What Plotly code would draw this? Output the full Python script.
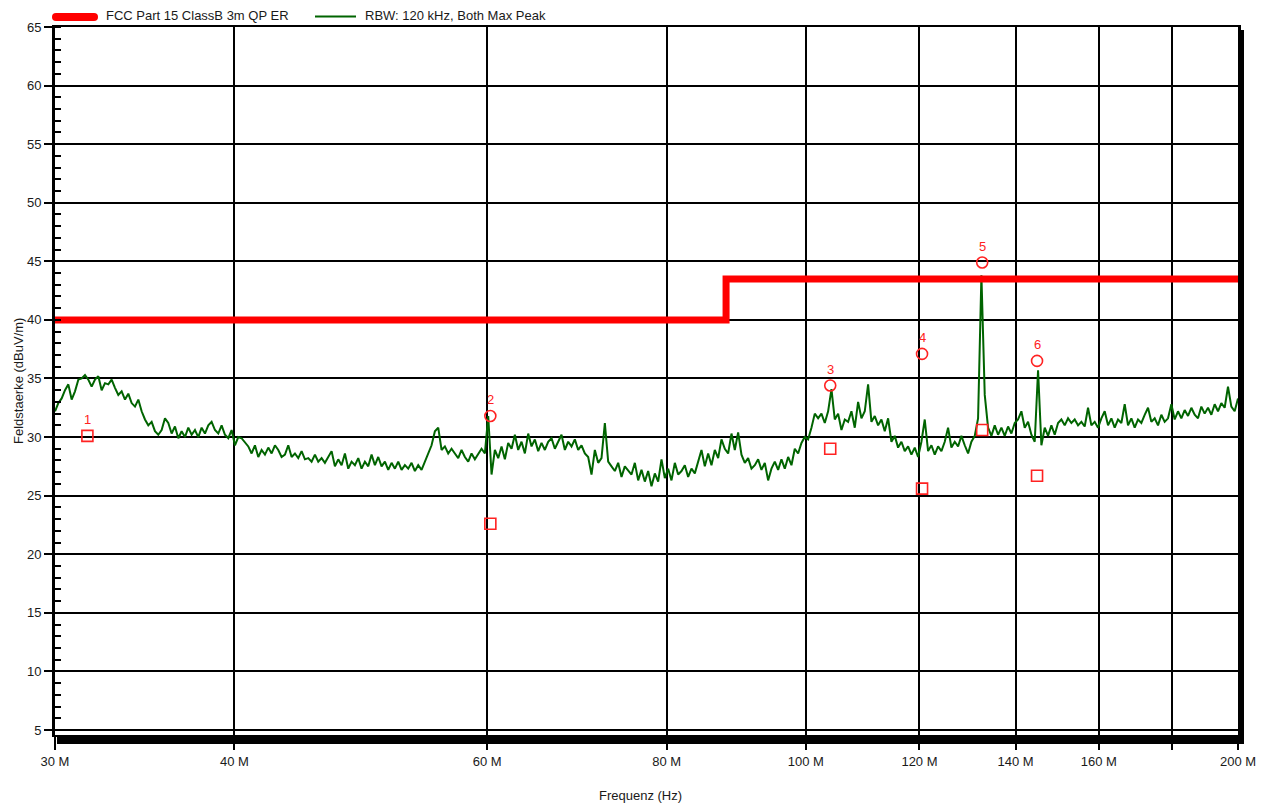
import numpy as np
import plotly.graph_objects as go

# ---------------- data ----------------
limit_name = "FCC Part 15 ClassB 3m QP ER"
limit_freq_mhz = [30, 88, 88, 200]
limit_level = [40, 40, 43.5, 43.5]

trace_name = "RBW: 120 kHz, Both Max Peak"
sweep_start_mhz = 30
sweep_stop_mhz = 200
trace_level = [
    32.2, 32.9, 33.3, 34.0, 34.5, 33.2, 33.9, 34.9, 35.0, 35.3,
    34.9, 34.3, 34.9, 35.2, 34.0, 34.6, 34.5, 34.9, 34.2, 33.6,
    33.9, 33.2, 33.7, 32.9, 32.6, 33.2, 32.2, 31.5, 31.0, 31.3,
    30.5, 30.2, 30.6, 31.6, 31.2, 30.3, 30.9, 29.9, 30.5, 30.0,
    30.8, 30.2, 30.6, 30.0, 30.8, 30.3, 31.0, 31.3, 30.6, 30.3,
    31.0, 30.2, 29.9, 30.6, 29.3, 30.0, 29.9, 29.5, 29.2, 28.6,
    29.3, 28.3, 28.9, 28.5, 29.1, 28.6, 29.3, 28.9, 28.3, 28.5,
    29.3, 28.3, 28.6, 28.2, 28.8, 28.1, 28.2, 27.9, 28.5, 27.9,
    28.2, 27.8, 28.3, 28.8, 27.5, 28.1, 27.6, 28.6, 27.3, 27.9,
    27.6, 28.2, 27.3, 27.9, 27.5, 28.5, 27.6, 28.3, 27.5, 27.9,
    27.2, 27.8, 27.3, 27.9, 27.2, 27.6, 27.3, 27.8, 27.1, 27.6,
    27.2, 27.9, 28.5, 29.3, 30.5, 30.8, 28.9, 29.2, 28.6,
    29.0, 28.6, 28.2, 28.9, 28.3, 27.9, 28.6, 28.1, 28.5, 29.0,
    28.6, 31.8, 26.8, 28.9, 28.2, 29.2, 28.1, 29.5, 29.0, 30.2,
    28.9, 29.6, 28.6, 30.3, 29.2, 29.8, 28.8, 29.5, 28.9, 29.6,
    29.9, 29.0, 29.6, 30.2, 28.9, 29.6, 29.2, 29.8, 28.9, 29.3,
    28.6, 28.3, 26.8, 28.9, 27.8, 28.2, 31.2, 27.9, 27.5, 27.1,
    27.8, 26.6, 27.5, 27.1, 26.8, 27.8, 26.3, 27.2, 26.2, 27.1,
    25.8, 26.9, 26.2, 28.1, 26.5, 27.3, 26.3, 27.8, 26.8, 27.1,
    27.6, 26.6, 27.3, 26.9, 27.9, 28.9, 27.5, 28.6, 27.6, 28.9,
    28.2, 29.8, 29.0, 28.6, 30.3, 28.9, 30.4, 28.5, 27.8, 28.2,
    27.3, 27.6, 28.1, 27.2, 27.8, 26.3, 27.3, 27.9, 27.2, 28.1,
    27.3, 28.3, 27.6, 29.0, 28.6, 29.5, 30.0, 29.8, 30.8, 32.0,
    31.6, 32.0, 31.2, 32.2, 34.1, 31.5, 32.0, 30.6, 31.5,
    31.3, 32.2, 30.8, 33.0, 31.6, 32.2, 34.5, 31.3, 31.8, 31.0,
    31.5, 30.5, 31.6, 29.6, 30.1, 29.1, 29.6, 28.8, 29.2, 28.5,
    29.1, 28.3, 29.6, 31.5, 28.8, 29.3, 28.5, 29.2, 28.8, 29.6,
    30.8, 29.1, 29.6, 29.2, 30.1, 29.3, 28.6, 29.6, 30.1, 31.6,
    43.8, 33.6, 30.8, 30.1, 31.0, 30.2, 30.8, 30.1, 30.9, 30.3,
    31.2, 31.5, 32.2, 30.8, 31.3, 30.2, 29.6, 35.7, 29.3, 30.8,
    30.1, 31.0, 30.2, 31.2, 31.5, 31.0, 31.6, 31.2, 31.5, 31.0,
    31.3, 30.9, 32.5, 31.0, 31.3, 30.8, 31.6, 32.2, 31.0, 31.6,
    30.8, 31.5, 31.2, 32.8, 31.0, 31.6, 30.8, 31.5, 31.2, 31.9,
    32.5, 31.3, 31.6, 31.0, 31.9, 31.3, 31.6, 32.8, 31.5, 32.2,
    31.6, 32.3, 31.8, 32.5, 31.9, 31.6, 32.6, 32.0, 32.5, 31.9,
    32.8, 32.2, 32.9, 32.5, 34.3, 32.6, 32.2, 33.3,
]

marker_num = ["1", "2", "3", "4", "5", "6"]
marker_freq_mhz = [31.6, 60.3, 104.0, 120.5, 132.7, 144.9]
peak_level = [None, 31.8, 34.4, 37.1, 44.9, 36.5]
qp_level = [30.1, 22.6, 29.0, 25.6, 30.6, 26.7]

x_tick_mhz = [30, 40, 60, 80, 100, 120, 140, 160, 180, 200]
x_tick_text = ["30 M", "40 M", "60 M", "80 M", "100 M", "120 M", "140 M", "160 M", "", "200 M"]
y_tick_vals = [5, 10, 15, 20, 25, 30, 35, 40, 45, 50, 55, 60, 65]

# ---------------- figure ----------------
W, H = 1268, 807
L, R, T, B = 55, 1238, 27, 735
pw, ph = R - L, B - T
FONT = "Liberation Sans, Arial, sans-serif"
FS = 13
TXT = "#1a1a1a"
RED = "#ff0000"
MRED = "#ff2222"
GREEN = "#006400"

freq_hz = np.geomspace(sweep_start_mhz * 1e6, sweep_stop_mhz * 1e6, len(trace_level))

fig = go.Figure()
fig.add_trace(go.Scatter(
    x=freq_hz, y=trace_level, mode="lines", name=trace_name,
    line=dict(color=GREEN, width=2), showlegend=False))
fig.add_trace(go.Scatter(
    x=[f * 1e6 for f in limit_freq_mhz], y=limit_level, mode="lines", name=limit_name,
    line=dict(color=RED, width=7), showlegend=False))

# QP squares
fig.add_trace(go.Scatter(
    x=[f * 1e6 for f in marker_freq_mhz], y=qp_level, mode="markers",
    marker=dict(symbol="square-open", size=11, color=MRED, line=dict(width=1.6, color=MRED)),
    showlegend=False))
# peak circles
pk_x = [f * 1e6 for f, p in zip(marker_freq_mhz, peak_level) if p is not None]
pk_y = [p for p in peak_level if p is not None]
fig.add_trace(go.Scatter(
    x=pk_x, y=pk_y, mode="markers",
    marker=dict(symbol="circle-open", size=11, color=MRED, line=dict(width=1.6, color=MRED)),
    showlegend=False))
# marker numbers
lab_y = [p if p is not None else q for p, q in zip(peak_level, qp_level)]
for n, f, y in zip(marker_num, marker_freq_mhz, lab_y):
    fig.add_annotation(x=np.log10(f * 1e6), y=y, text=n, showarrow=False,
                       yshift=16, font=dict(family=FONT, size=FS, color=MRED),
                       xanchor="center", yanchor="middle")


def px_x(x):
    return (x - L) / pw


def px_y(y):
    return (B - y) / ph


shapes = [
    # legend swatch: red thick line with rounded ends
    dict(type="rect", xref="paper", yref="paper", x0=px_x(56), x1=px_x(94),
         y0=px_y(21), y1=px_y(13), fillcolor=RED, line=dict(width=0)),
    dict(type="circle", xref="paper", yref="paper", x0=px_x(52), x1=px_x(60),
         y0=px_y(21), y1=px_y(13), fillcolor=RED, line=dict(width=0)),
    dict(type="circle", xref="paper", yref="paper", x0=px_x(90), x1=px_x(98),
         y0=px_y(21), y1=px_y(13), fillcolor=RED, line=dict(width=0)),
    dict(type="line", xref="paper", yref="paper", x0=px_x(315), x1=px_x(356),
         y0=px_y(16.5), y1=px_y(16.5), line=dict(color=GREEN, width=1.8)),
    # shadow right
    dict(type="rect", xref="paper", yref="paper", x0=1, x1=px_x(R + 6),
         y0=px_y(B + 9), y1=px_y(T + 3), fillcolor="black", line=dict(width=0)),
    # shadow bottom
    dict(type="rect", xref="paper", yref="paper", x0=px_x(L + 2), x1=px_x(R + 6),
         y0=px_y(B + 9), y1=px_y(B + 1), fillcolor="black", line=dict(width=0)),
]
fig.add_annotation(xref="paper", yref="paper", x=px_x(104), y=px_y(15), text=limit_name,
                   showarrow=False, xanchor="left", yanchor="middle",
                   font=dict(family=FONT, size=FS, color=TXT))
fig.add_annotation(xref="paper", yref="paper", x=px_x(363), y=px_y(15), text=trace_name,
                   showarrow=False, xanchor="left", yanchor="middle",
                   font=dict(family=FONT, size=FS, color=TXT))
# axis titles
fig.add_annotation(xref="paper", yref="paper", x=px_x(18), y=0.5, text="Feldstaerke (dBuV/m)",
                   textangle=-90, showarrow=False, xanchor="center", yanchor="middle",
                   font=dict(family=FONT, size=FS, color=TXT))
fig.add_annotation(xref="paper", yref="paper", x=px_x(640), y=px_y(795), text="Frequenz (Hz)",
                   showarrow=False, xanchor="center", yanchor="middle",
                   font=dict(family=FONT, size=FS, color=TXT))

fig.update_layout(
    width=W, height=H,
    margin=dict(l=L, r=W - R, t=T, b=H - B, pad=0),
    paper_bgcolor="white", plot_bgcolor="white",
    shapes=shapes, showlegend=False,
    font=dict(family=FONT, size=FS, color=TXT),
)
fig.update_xaxes(
    type="log", range=[np.log10(30e6), np.log10(200e6)],
    tickmode="array", tickvals=[v * 1e6 for v in x_tick_mhz], ticktext=x_tick_text,
    showgrid=True, gridcolor="black", gridwidth=1.5,
    ticks="outside", ticklen=13, tickcolor="black", tickwidth=1.5,
    showline=True, linecolor="black", linewidth=2, mirror=True, zeroline=False,
    tickfont=dict(family=FONT, size=FS, color=TXT),
)
fig.update_yaxes(
    range=[4.57, 65], tickmode="array", tickvals=y_tick_vals,
    showgrid=True, gridcolor="black", gridwidth=1.5,
    ticks="outside", ticklen=8, tickcolor="black", tickwidth=1.5,
    minor=dict(dtick=1, ticks="inside", ticklen=6, tickcolor="black", tickwidth=1.5, showgrid=False),
    showline=True, linecolor="black", linewidth=3, mirror=True, zeroline=False,
    tickfont=dict(family=FONT, size=FS, color=TXT),
)

fig.write_html("out.html")
